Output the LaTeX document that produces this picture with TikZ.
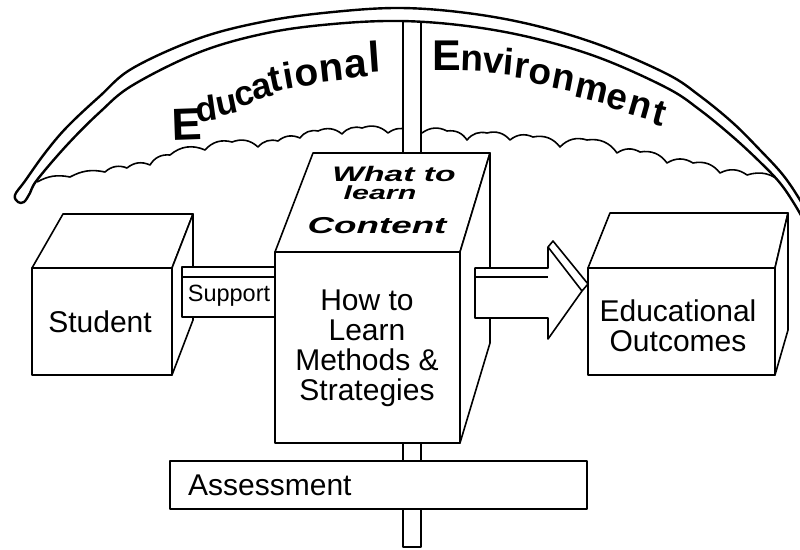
\documentclass[tikz,border=0pt]{standalone}
\usepackage{fontspec}
\setmainfont{Liberation Sans}
\usepackage{graphicx}
% one letter of the arched title: box width, raise, rotation, size, letter
\newcommand\archltr[5]{\makebox[#1pt][l]{\raisebox{#2pt}{\rotatebox{#3}{\fontsize{#4}{#4}\selectfont\bfseries #5}}}}
\begin{document}
\begin{tikzpicture}[x=1pt,y=1pt,
  box/.style={draw, line width=1.6pt, fill=white, line join=round},
  thin/.style={line width=1.6pt},
  lbl/.style={inner sep=0pt, font=\fontsize{30}{30}\selectfont, align=center},
  word/.style={inner sep=0pt, anchor=base west},
  bump/.style={bend left=32}]
\useasboundingbox (0,0) rectangle (800,-549);
\clip (0,0) rectangle (800,-549);

% cloud line under the arch
\draw[thin, line join=round] (37,-182) to[bend left=20] (70,-177) to[bend left=20] (105,-172)
  to[bump] (127,-168) to[bump] (150,-165) to[bump] (170,-155) to[bump] (205,-150)
  to[bump] (232,-142) to[bump] (258,-147) to[bump] (278,-141) to[bump] (300,-138)
  to[bump] (318,-131) to[bump] (342,-134) to[bump] (362,-128) to[bump] (388,-133)
  to[bump] (410,-131) to[bump] (422,-133) to[bump] (447,-131) to[bump] (467,-140)
  to[bump] (487,-133) to[bump] (510,-140) to[bump] (533,-137) to[bump] (560,-147)
  to[bump] (587,-140) to[bump] (617,-153) to[bump] (640,-152) to[bump] (667,-163)
  to[bump] (693,-163) to[bump] (720,-173) to[bump] (747,-175) to[bump] (783,-184);

% pole
\draw[box] (403,-12) rectangle (421,-547);

% arch (crescent)
\draw[line width=2.4pt, fill=white, line join=round] plot[smooth, tension=0.6] coordinates {
  (812,-222) (800,-200) (783,-175) (760,-150) (733,-123) (700,-96) (667,-74)
  (600,-45) (533,-25) (467,-13) (400,-8) (333,-12) (267,-21) (200,-38)
  (133,-68) (100,-96) (67,-127) (45,-153) (25,-181) (15,-195) (18,-202)
  (24,-202) (30,-193) (37,-180) (67,-145) (100,-112) (133,-85) (200,-52)
  (267,-33) (333,-24) (400,-21) (467,-26) (533,-38) (600,-58) (667,-88)
  (700,-110) (733,-137) (760,-162) (780,-183) (795,-205) (808,-228)} -- cycle;

% arched title words
\node[word] (educational) at (171,-140) {%
  \archltr{22.6}{0}{2}{45}{E}\archltr{20.8}{18}{8}{35}{d}\archltr{18.3}{24}{12}{35}{u}%
  \archltr{17}{33}{14}{35}{c}\archltr{17}{40}{14}{36}{a}\archltr{13.8}{48}{12}{37}{t}%
  \archltr{12.8}{51}{10}{37}{i}\archltr{24.8}{53}{8}{39}{o}\archltr{25.2}{58}{6}{40}{n}%
  \archltr{23.6}{62}{5}{41}{a}\archltr{12}{68}{4}{43}{l}};
\node[word] (environment) at (432,-70) {%
  \archltr{28}{0}{0}{43}{E}\archltr{22}{0}{-2}{37}{n}\archltr{20}{-2}{-4}{37}{v}%
  \archltr{11}{-4}{-5}{37}{i}\archltr{14}{-7}{-7}{37}{r}\archltr{23}{-12}{-9}{37}{o}%
  \archltr{23}{-17}{-11}{37}{n}\archltr{31}{-26}{-13}{37}{m}\archltr{22}{-36}{-15}{37}{e}%
  \archltr{24}{-43}{-16}{37}{n}\archltr{12}{-53}{-15}{37}{t}};

% student box
\draw[box] (32,-268) rectangle (172,-375);
\draw[box] (32,-268) -- (63,-214) -- (193,-214) -- (172,-268) -- cycle;
\draw[box] (172,-268) -- (193,-214) -- (193,-320) -- (172,-375) -- cycle;
\node[lbl] (student) at (100,-322) {Student};

% support bar
\draw[box] (182,-267) rectangle (282,-317);
\draw[thin] (182,-277) -- (282,-277);
\node[inner sep=0pt, font=\fontsize{23.5}{23.5}\selectfont] (support) at (229,-296) {Support};

% central cube
\draw[box] (275,-252) rectangle (460,-443);
\draw[box] (275,-252) -- (313,-153) -- (490,-153) -- (460,-252) -- cycle;
\draw[box] (460,-252) -- (490,-153) -- (490,-343) -- (460,-443) -- cycle;
\node[inner sep=0pt, anchor=base, font=\fontsize{21}{21}\selectfont\bfseries\itshape] (what) at (394,-181) {\scalebox{1.6}[1]{What to}};
\node[inner sep=0pt, anchor=base, font=\fontsize{19}{19}\selectfont\bfseries\itshape] (learn) at (380,-199) {\scalebox{1.6}[1]{learn}};
\node[inner sep=0pt, anchor=base, font=\fontsize{23}{23}\selectfont\bfseries\itshape] (content) at (377,-233) {\scalebox{1.6}[1]{Content}};
\node[lbl, anchor=north] (how) at (367,-290) {How to\\Learn\\Methods \&\\Strategies};

% outcomes box
\draw[box] (588,-268) rectangle (775,-375);
\draw[box] (588,-268) -- (610,-213) -- (788,-213) -- (775,-268) -- cycle;
\draw[box] (775,-268) -- (788,-213) -- (788,-330) -- (775,-375) -- cycle;
\node[lbl, anchor=north] (outcomes) at (678,-300) {Educational\\Outcomes};

% block arrow
\draw[box] (475,-268) -- (548,-268) -- (548,-247) -- (553,-241) -- (588,-284)
  -- (582,-291) -- (548,-339) -- (548,-318) -- (475,-318) -- cycle;
\draw[thin] (475,-277) -- (548,-277);
\draw[thin] (548,-247) -- (582,-291);

% assessment bar
\draw[box] (170,-461) rectangle (587,-509);
\node[inner sep=0pt, anchor=base west, font=\fontsize{30}{30}\selectfont] (assess) at (188,-495) {Assessment};
\end{tikzpicture}
\end{document}
